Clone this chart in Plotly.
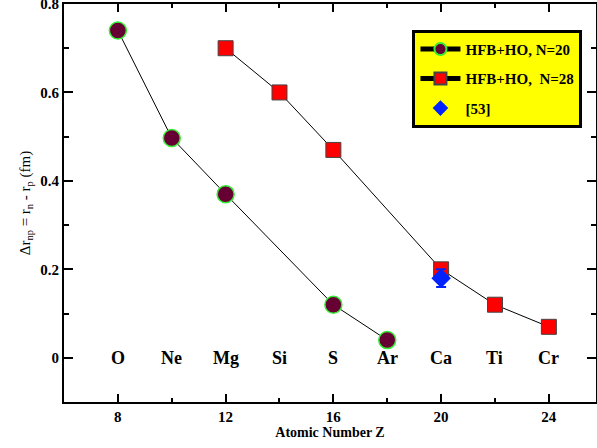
import plotly.graph_objects as go

z20 = [8, 10, 12, 16, 18]
dr20 = [0.74, 0.497, 0.37, 0.12, 0.04]
z28 = [12, 14, 16, 20, 22, 24]
dr28 = [0.70, 0.60, 0.47, 0.20, 0.12, 0.07]
z53 = [20]
dr53 = [0.18]
err53 = [0.02]
elem_z = [8, 10, 12, 14, 16, 18, 20, 22, 24]
elem_names = ["O", "Ne", "Mg", "Si", "S", "Ar", "Ca", "Ti", "Cr"]

FONT = "Liberation Serif, Times New Roman, serif"

fig = go.Figure()
fig.add_trace(go.Scatter(
    x=z20, y=dr20, mode="lines+markers", name="<b>HFB+HO, N=20</b>",
    legendgroup="a",
    line=dict(color="black", width=1),
    marker=dict(symbol="circle", size=17, color="#660033",
                line=dict(color="#33ee33", width=1.5))))
fig.add_trace(go.Scatter(
    x=z28, y=dr28, mode="lines+markers", name="<b>HFB+HO,  N=28</b>",
    legendgroup="b",
    line=dict(color="black", width=1),
    marker=dict(symbol="square", size=15, color="#ff0000",
                line=dict(color="#444444", width=1))))
fig.add_trace(go.Scatter(
    x=z53, y=dr53, mode="markers", name="<b>[53]</b>",
    legendgroup="c",
    error_y=dict(type="data", array=err53, color="#0022ff", thickness=2, width=5),
    marker=dict(symbol="diamond", size=15, color="#0022ff")))

for z, n in zip(elem_z, elem_names):
    fig.add_annotation(x=z, y=0, text="<b>%s</b>" % n, showarrow=False,
                       font=dict(family=FONT, size=18, color="black"),
                       xanchor="center", yanchor="middle")

fig.update_layout(
    width=597, height=448,
    margin=dict(l=64, r=1, t=4, b=46),
    paper_bgcolor="white", plot_bgcolor="white",
    font=dict(family=FONT, color="black"),
    showlegend=True,
    legend=dict(x=0.655, y=0.935, xanchor="left", yanchor="top",
                bgcolor="#ffff00", bordercolor="black", borderwidth=3,
                font=dict(family=FONT, size=15, color="black"),
                itemsizing="constant", tracegroupgap=7, itemwidth=40),
    xaxis=dict(range=[6, 25.75], tickmode="array", tickvals=[8, 12, 16, 20, 24],
               ticktext=["<b>8</b>", "<b>12</b>", "<b>16</b>", "<b>20</b>", "<b>24</b>"],
               ticks="inside", ticklen=8, tickwidth=2, tickcolor="black",
               minor=dict(tickvals=[10, 14, 18, 22], ticks="inside", ticklen=4,
                          tickwidth=2, tickcolor="black"),
               showline=True, linecolor="black", linewidth=2, mirror="ticks",
               showgrid=False, zeroline=False, automargin=False,
               ticklabeloverflow="allow",
               tickfont=dict(family=FONT, size=15, color="black"),
               title=dict(text="<b>Atomic Number Z</b>", standoff=0,
                          font=dict(family=FONT, size=14, color="black"))),
    yaxis=dict(range=[-0.1, 0.8], tickmode="array", tickvals=[0, 0.2, 0.4, 0.6, 0.8],
               ticktext=["<b>0</b>", "<b>0.2</b>", "<b>0.4</b>", "<b>0.6</b>", "<b>0.8</b>"],
               ticks="inside", ticklen=9, tickwidth=2, tickcolor="black",
               minor=dict(tickvals=[0.1, 0.3, 0.5, 0.7], ticks="inside", ticklen=5,
                          tickwidth=2, tickcolor="black"),
               showline=True, linecolor="black", linewidth=2, mirror="ticks",
               showgrid=False, zeroline=False, automargin=False,
               ticklabeloverflow="allow",
               tickfont=dict(family=FONT, size=15, color="black"),
               title=dict(text="Δr<sub>np</sub> = r<sub>n</sub> - r<sub>p</sub> (fm)", standoff=6,
                          font=dict(family=FONT, size=15, color="black"))),
)

fig.write_html("out.html", config={"displayModeBar": False},
               post_script="document.body.style.margin='0px';")
